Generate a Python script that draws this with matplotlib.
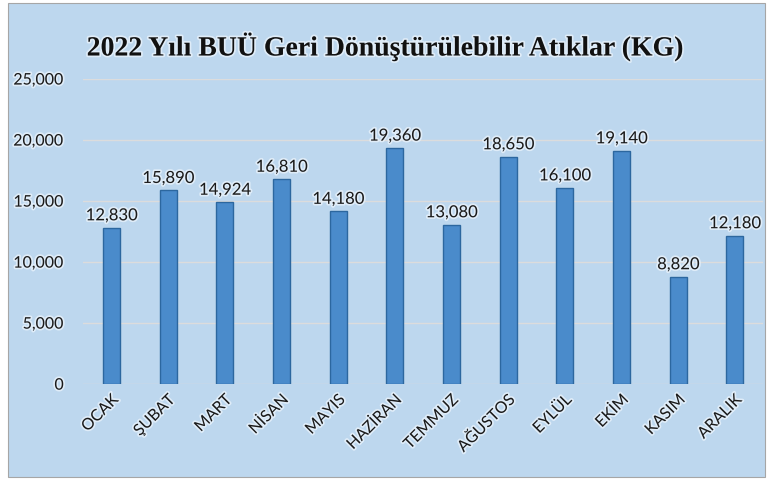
import matplotlib

matplotlib.use("Agg")
import matplotlib.pyplot as plt
import matplotlib.patheffects as pe
from matplotlib.patches import Rectangle
from matplotlib.ticker import FuncFormatter

# Data
months = ["OCAK", "ŞUBAT", "MART", "NİSAN", "MAYIS", "HAZİRAN",
          "TEMMUZ", "AĞUSTOS", "EYLÜL", "EKİM", "KASIM", "ARALIK"]
weights = [12830, 15890, 14924, 16810, 14180, 19360,
           13080, 18650, 16100, 19140, 8820, 12180]
y_ticks = [0, 5000, 10000, 15000, 20000, 25000]

bg = "#bdd7ee"
glow = [pe.withStroke(linewidth=2.5, foreground="#e8f2fb", alpha=0.8)]

fig = plt.figure(figsize=(7.71, 4.82), dpi=100)
fig.patch.set_facecolor("white")
fig.patches.append(Rectangle((8 / 771, 1 - 477 / 482), 757 / 771, 474 / 482,
                             transform=fig.transFigure, facecolor=bg,
                             edgecolor="#a6a6a6", linewidth=0.8, zorder=-5))

ax = fig.add_axes([0.108, 0.203, 0.882, 0.633])
ax.set_facecolor("none")

x = range(len(months))
bars = ax.bar(x, weights, width=0.3, color="#4a8bcb", edgecolor="#2c679f",
              linewidth=1.0, zorder=3)

for bar, v in zip(bars, weights):
    ax.text(bar.get_x() + bar.get_width() / 2, v + 350, f"{v:,}",
            ha="center", va="bottom", fontsize=12, family="Lato",
            color="#1a1a1a", path_effects=glow, zorder=4)

ax.set_ylim(0, 25000)
ax.set_xlim(-0.5, len(months) - 0.5)
ax.set_yticks(y_ticks)
ax.yaxis.set_major_formatter(FuncFormatter(lambda v, p: f"{int(v):,}"))
ax.grid(axis="y", color="#dcdcdc", linewidth=1.0, zorder=1)
ax.set_axisbelow(True)
for s in ax.spines.values():
    s.set_visible(False)
ax.tick_params(length=0, labelsize=11.5, colors="#1a1a1a")
ax.tick_params(axis="y", pad=14)
ax.tick_params(axis="x", pad=6)

ax.set_xticks(list(x))
ax.set_xticklabels(months, rotation=45, ha="right", rotation_mode="anchor",
                   family="Lato", fontsize=11.5, path_effects=glow)
for lab in ax.get_yticklabels():
    lab.set_family("Lato")
    lab.set_path_effects(glow)

fig.text(0.5, 1 - 47 / 482, "2022 Yılı BUÜ Geri Dönüştürülebilir Atıklar (KG)",
         ha="center", va="center", fontsize=20, fontweight="bold",
         family="Liberation Serif", color="#111111", path_effects=glow)

fig.savefig("out.png", dpi=100)
